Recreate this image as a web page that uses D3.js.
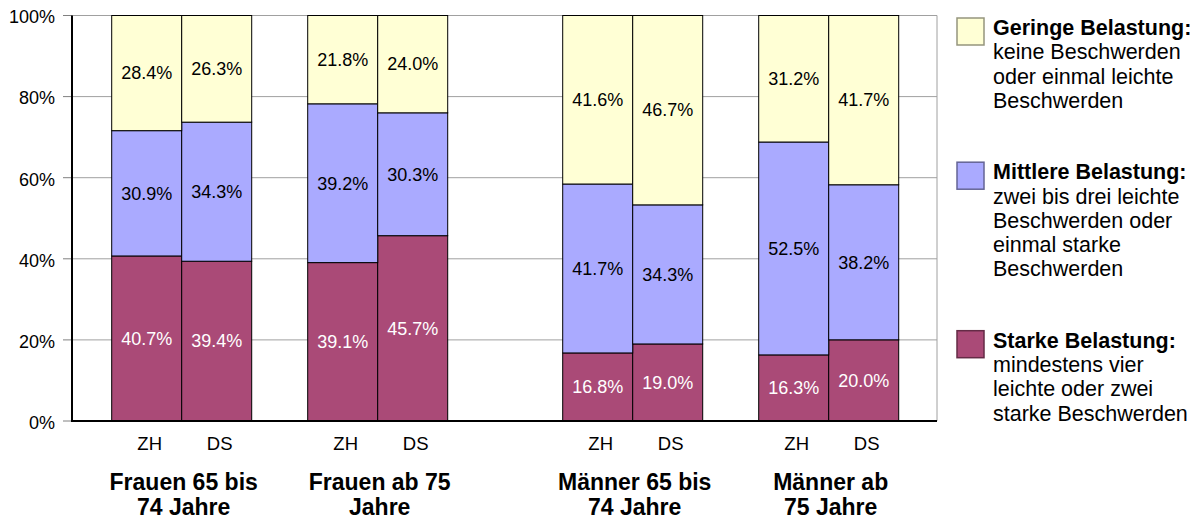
<!DOCTYPE html>
<html>
  <head>
    <meta charset="utf-8">
    <title>Belastung</title>
    <script src="https://d3js.org/d3.v7.min.js"></script>
    <style>
      body { margin: 0; background: #fff; }
      svg text { font-family: "Liberation Sans", Arial, sans-serif; fill: #000; }
      .tick-label { font-size: 18px; text-anchor: end; }
      .bar-label { font-size: 18px; text-anchor: middle; }
      .region-label { font-size: 18.5px; text-anchor: middle; }
      .group-label { font-size: 23px; font-weight: bold; text-anchor: middle; }
      .legend text { font-size: 21.5px; }
      .legend .head { font-weight: bold; }
    </style>
  </head>
  <body>
    <svg width="1197" height="521"></svg>
    <script>
      // data (percent)
      const groupLabels = [
        ["Frauen 65 bis", "74 Jahre"],
        ["Frauen ab 75", "Jahre"],
        ["Männer 65 bis", "74 Jahre"],
        ["Männer ab", "75 Jahre"]
      ];
      const sexOfGroup = ["F", "F", "M", "M"];
      const regions = ["ZH", "DS"];
      // order: F65 ZH, F65 DS, F75 ZH, F75 DS, M65 ZH, M65 DS, M75 ZH, M75 DS
      const starke   = [40.7, 39.4, 39.1, 45.7, 16.8, 19.0, 16.3, 20.0];
      const mittlere = [30.9, 34.3, 39.2, 30.3, 41.7, 34.3, 52.5, 38.2];
      const geringe  = [28.4, 26.3, 21.8, 24.0, 41.6, 46.7, 31.2, 41.7];
      const yTicks = [0, 0.2, 0.4, 0.6, 0.8, 1];

      const keys = ["starke", "mittlere", "geringe"];
      const colors = { starke: "#AA4A77", mittlere: "#AAAAFF", geringe: "#FFFFD5" };
      const labelColors = { starke: "#fff", mittlere: "#000", geringe: "#000" };
      const legendItems = [
        { key: "geringe", lines: ["Geringe Belastung:", "keine Beschwerden", "oder einmal leichte", "Beschwerden"] },
        { key: "mittlere", lines: ["Mittlere Belastung:", "zwei bis drei leichte", "Beschwerden oder", "einmal starke", "Beschwerden"] },
        { key: "starke", lines: ["Starke Belastung:", "mindestens vier", "leichte oder zwei", "starke Beschwerden"] }
      ];

      const rows = [];
      groupLabels.forEach((g, gi) => {
        regions.forEach((r, ri) => {
          const i = gi * regions.length + ri;
          rows.push({ gi, region: r, starke: starke[i], mittlere: mittlere[i], geringe: geringe[i] });
        });
      });

      const svg = d3.select("svg");
      const plot = { left: 72, right: 937, top: 15.5, bottom: 421 };
      const barWidth = 70;
      const sexGap = 59;

      const yScale = d3.scaleLinear().domain([0, 1]).range([plot.bottom, plot.top]);
      const groupScale = d3.scalePoint()
        .domain(d3.range(groupLabels.length))
        .range([181.7, 181.7 + 3 * 196]);
      const groupX = gi => groupScale(gi) + (sexOfGroup[gi] === "M" ? sexGap : 0);
      const regionScale = d3.scaleBand().domain(regions).range([-barWidth, barWidth]);
      const barX = d => groupX(d.gi) + regionScale(d.region);

      const series = d3.stack().keys(keys).offset(d3.stackOffsetExpand)(rows);

      // grid
      svg.append("g")
        .selectAll("line")
        .data(yTicks.filter(t => t > 0))
        .join("line")
          .attr("x1", plot.left).attr("x2", plot.right)
          .attr("y1", d => yScale(d)).attr("y2", d => yScale(d))
          .attr("stroke", "#A0A0A0").attr("stroke-width", 1);
      svg.append("line")
        .attr("x1", plot.right).attr("x2", plot.right)
        .attr("y1", plot.top).attr("y2", plot.bottom)
        .attr("stroke", "#A0A0A0");

      // bars
      const layer = svg.append("g")
        .selectAll("g")
        .data(series)
        .join("g")
          .attr("fill", s => colors[s.key]);
      layer.selectAll("rect")
        .data(s => s.map(p => ({ p, key: s.key })))
        .join("rect")
          .attr("x", d => barX(d.p.data))
          .attr("width", regionScale.bandwidth())
          .attr("y", d => yScale(d.p[1]))
          .attr("height", d => yScale(d.p[0]) - yScale(d.p[1]))
          .attr("stroke", "#000")
          .attr("stroke-width", 1);

      // bar labels
      series.forEach(s => {
        svg.append("g")
          .selectAll("text")
          .data(s)
          .join("text")
            .attr("class", "bar-label")
            .attr("x", p => barX(p.data) + regionScale.bandwidth() / 2)
            .attr("y", p => yScale((p[0] + p[1]) / 2))
            .attr("dy", "0.35em")
            .style("fill", labelColors[s.key])
            .text(p => p.data[s.key].toFixed(1) + "%");
      });

      // axes
      const yAxis = svg.append("g");
      yAxis.selectAll("line.tick")
        .data(yTicks)
        .join("line")
          .attr("class", "tick")
          .attr("x1", plot.left - 9).attr("x2", plot.left)
          .attr("y1", d => yScale(d)).attr("y2", d => yScale(d))
          .attr("stroke", "#808080");
      yAxis.selectAll("text")
        .data(yTicks)
        .join("text")
          .attr("class", "tick-label")
          .attr("x", 55)
          .attr("y", d => yScale(d) + 1.5)
          .attr("dy", "0.35em")
          .text(d3.format(".0%"));
      svg.append("line")
        .attr("x1", plot.left).attr("x2", plot.left)
        .attr("y1", plot.top).attr("y2", plot.bottom + 1)
        .attr("stroke", "#000").attr("stroke-width", 2);
      svg.append("line")
        .attr("x1", plot.left - 1).attr("x2", plot.right)
        .attr("y1", plot.bottom).attr("y2", plot.bottom)
        .attr("stroke", "#000").attr("stroke-width", 2);

      // category labels
      svg.append("g")
        .selectAll("text")
        .data(rows)
        .join("text")
          .attr("class", "region-label")
          .attr("x", d => barX(d) + regionScale.bandwidth() / 2 + 3)
          .attr("y", 450)
          .text(d => d.region);
      const gl = svg.append("g")
        .selectAll("text")
        .data(groupLabels)
        .join("text")
          .attr("class", "group-label")
          .attr("x", (d, i) => groupX(i) + 2)
          .attr("y", 490);
      gl.selectAll("tspan")
        .data(d => d)
        .join("tspan")
          .attr("x", function () { return this.parentNode.getAttribute("x"); })
          .attr("dy", (d, i) => i === 0 ? 0 : 25)
          .text(d => d);

      // legend
      const legend = svg.append("g").attr("class", "legend");
      const lineHeight = 24.3;
      const itemGap = 47;
      let baseline = 35;
      legendItems.forEach(item => {
        const c = colors[item.key];
        legend.append("rect")
          .attr("x", 957).attr("y", baseline - 17)
          .attr("width", 27).attr("height", 27)
          .attr("fill", c)
          .attr("stroke", d3.color(c).darker(1.5))
          .attr("stroke-width", 1.5);
        const t = legend.append("text").attr("x", 993).attr("y", baseline);
        t.selectAll("tspan")
          .data(item.lines)
          .join("tspan")
            .attr("class", (d, i) => i === 0 ? "head" : null)
            .attr("x", 993)
            .attr("dy", (d, i) => i === 0 ? 0 : lineHeight)
            .text(d => d);
        baseline += item.lines.length * lineHeight + itemGap;
      });
    </script>
  </body>
</html>
